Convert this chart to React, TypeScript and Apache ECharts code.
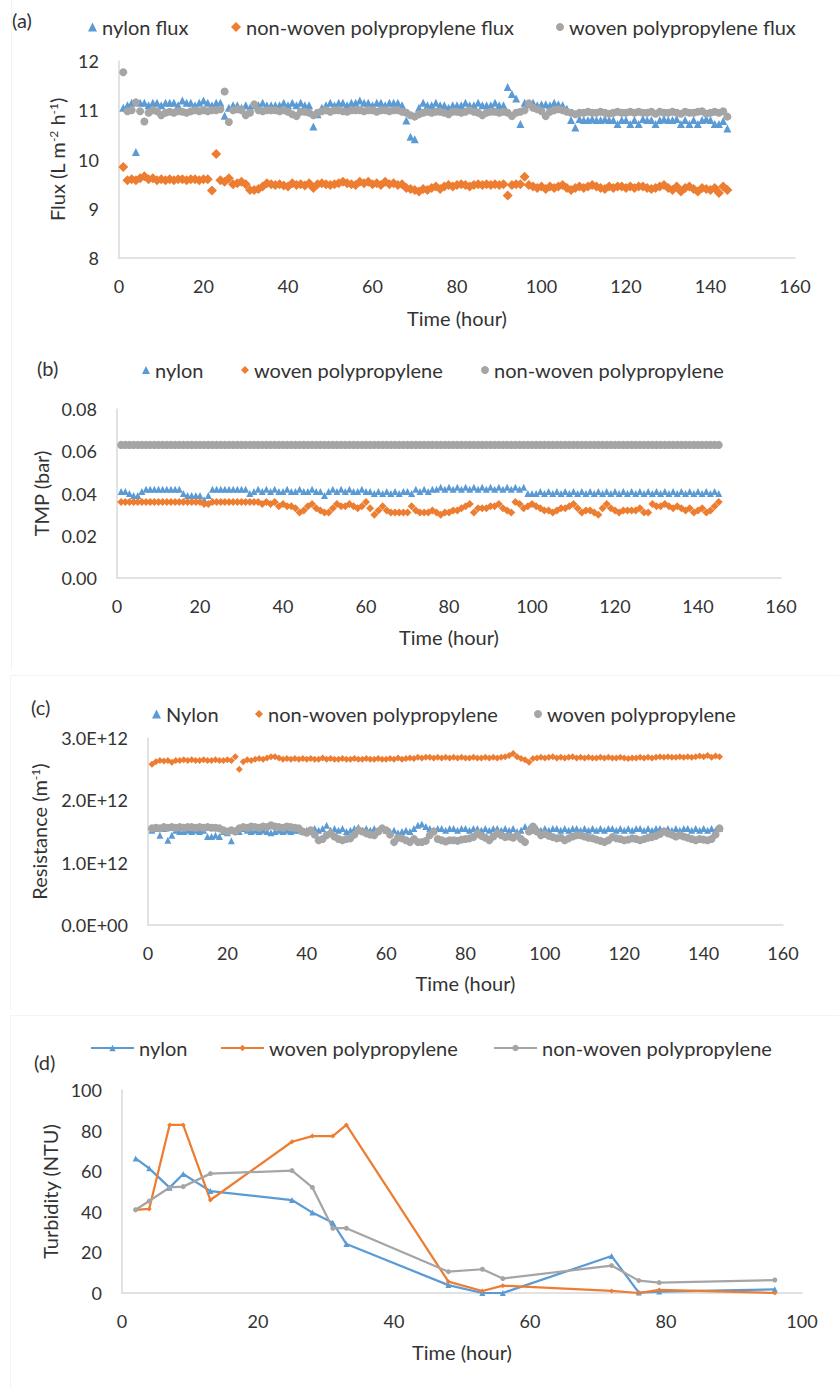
import React, { useEffect, useRef } from "react";
import * as echarts from "echarts";

const FONT = "Lato, 'Open Sans', sans-serif";
const TXT = "#333333";
const AX = "#D9D9D9";
const BLUE = "#5B9BD5";
const ORANGE = "#ED7D31";
const GRAY = "#A5A5A5";

// ---------- (a) Flux, hours 1..144 ----------
const nylonFlux = [
  11.05, 11.1, 11.15, 10.15, 11.15, 11.15, 11.1, 11.15, 11.15, 11.1,
  11.15, 11.15, 11.15, 11.1, 11.2, 11.15, 11.15, 11.1, 11.15, 11.2,
  11.15, 11.1, 11.15, 11.15, 10.89, 11.05, 11.1, 11.1, 11.05, 11.1,
  11.05, 11.1, 11.1, 11.15, 11.1, 11.1, 11.1, 11.1, 11.15, 11.1,
  11.15, 11.1, 11.15, 11.1, 11.1, 10.67, 10.92, 11.05, 11.1, 11.15,
  11.1, 11.15, 11.15, 11.1, 11.15, 11.15, 11.2, 11.15, 11.15, 11.1,
  11.15, 11.15, 11.1, 11.15, 11.15, 11.15, 11.1, 10.79, 10.46, 10.41,
  11.05, 11.15, 11.1, 11.1, 11.15, 11.1, 11.1, 11.05, 11.1, 11.1,
  11.1, 11.15, 11.1, 11.1, 11.15, 11.1, 11.1, 11.1, 11.15, 11.1,
  11.1, 11.47, 11.33, 11.24, 10.72, 11.15, 11.12, 11.15, 11.1, 11.12,
  11.12, 11.1, 11.15, 11.12, 11.1, 11.03, 10.8, 10.65, 10.82, 10.8,
  10.8, 10.82, 10.8, 10.8, 10.82, 10.8, 10.8, 10.72, 10.8, 10.8,
  10.72, 10.8, 10.72, 10.82, 10.8, 10.8, 10.72, 10.8, 10.82, 10.8,
  10.8, 10.82, 10.72, 10.8, 10.72, 10.8, 10.72, 10.8, 10.82, 10.8,
  10.72, 10.72, 10.78, 10.63,
];
const nonWovenFlux = [
  9.85, 9.58, 9.6, 9.58, 9.62, 9.66, 9.6, 9.62, 9.58, 9.6,
  9.58, 9.6, 9.58, 9.6, 9.6, 9.58, 9.6, 9.6, 9.58, 9.6,
  9.6, 9.37, 10.11, 9.58, 9.55, 9.62, 9.5, 9.52, 9.55, 9.5,
  9.38, 9.38, 9.4, 9.45, 9.52, 9.5, 9.48, 9.5, 9.47, 9.45,
  9.52, 9.48, 9.5, 9.47, 9.52, 9.42, 9.5, 9.52, 9.5, 9.48,
  9.5, 9.52, 9.55, 9.52, 9.5, 9.48, 9.55, 9.52, 9.55, 9.5,
  9.52, 9.48, 9.55, 9.5, 9.52, 9.48, 9.5, 9.42, 9.4, 9.38,
  9.35, 9.4, 9.38, 9.42, 9.45, 9.4, 9.45, 9.48, 9.45, 9.48,
  9.5, 9.48, 9.45, 9.48, 9.5, 9.48, 9.5, 9.48, 9.5, 9.48,
  9.5, 9.27, 9.48, 9.5, 9.5, 9.65, 9.48, 9.45, 9.42, 9.45,
  9.4, 9.45, 9.42, 9.45, 9.48, 9.42, 9.38, 9.42, 9.45, 9.42,
  9.45, 9.48, 9.45, 9.42, 9.4, 9.45, 9.42, 9.45, 9.45, 9.42,
  9.45, 9.42, 9.45, 9.45, 9.42, 9.4, 9.42, 9.45, 9.48, 9.42,
  9.38, 9.45, 9.35, 9.42, 9.45, 9.4, 9.35, 9.42, 9.4, 9.38,
  9.42, 9.32, 9.45, 9.38,
];
const wovenFlux = [
  11.77, 10.98, 11.0, 11.16, 10.98, 10.77, 10.95, 11.0, 10.98, 10.9,
  10.95, 10.97, 10.95, 10.98, 10.97, 10.95, 10.98, 11.0, 10.98, 11.0,
  10.98, 11.0, 11.0, 11.02, 11.38, 10.76, 11.0, 11.02, 11.0, 10.9,
  10.95, 11.12, 11.0, 10.98, 11.0, 11.0, 11.0, 10.98, 11.0, 10.97,
  10.92, 10.88, 10.97, 10.97, 10.95, 10.9, 10.95, 10.98, 11.0, 10.97,
  11.0, 11.0, 10.98, 10.97, 11.0, 11.0, 11.0, 10.98, 11.0, 11.0,
  10.97, 11.0, 11.0, 10.98, 11.0, 11.0, 10.97, 10.95, 10.9, 10.87,
  10.92, 10.95, 10.97, 10.95, 10.97, 10.97, 10.95, 10.92, 10.97, 10.97,
  10.95, 10.97, 11.0, 10.97, 10.95, 10.9, 10.95, 10.97, 10.97, 10.95,
  10.97, 10.95, 10.88, 10.95, 10.97, 11.0, 11.14, 11.05, 11.02, 10.98,
  10.88, 10.97, 11.0, 11.02, 11.0, 10.97, 10.95, 10.92, 10.95, 10.95,
  10.97, 10.95, 10.95, 10.97, 10.95, 10.93, 10.95, 10.97, 10.95, 10.95,
  10.97, 10.95, 10.97, 10.95, 10.95, 10.97, 10.93, 10.97, 10.95, 10.95,
  10.97, 10.95, 10.93, 10.97, 10.95, 10.95, 10.97, 10.98, 10.93, 10.95,
  10.97, 10.95, 10.98, 10.87,
];

// ---------- (b) TMP, hours 1..145 ----------
const nylonTmp = [
  0.041, 0.041, 0.04, 0.039, 0.039, 0.041, 0.042, 0.042, 0.042, 0.042,
  0.042, 0.042, 0.042, 0.042, 0.042, 0.04, 0.039, 0.039, 0.039, 0.039,
  0.037, 0.039, 0.042, 0.042, 0.042, 0.042, 0.042, 0.042, 0.042, 0.042,
  0.042, 0.04, 0.041, 0.042, 0.041, 0.042, 0.041, 0.042, 0.041, 0.041,
  0.042, 0.041, 0.041, 0.042, 0.041, 0.041, 0.042, 0.041, 0.041, 0.039,
  0.041, 0.042, 0.041, 0.042, 0.041, 0.042, 0.041, 0.041, 0.042, 0.041,
  0.041, 0.04, 0.041, 0.04, 0.041, 0.04, 0.041, 0.04, 0.041, 0.041,
  0.04, 0.042, 0.041, 0.042, 0.041, 0.042, 0.042, 0.043, 0.042, 0.043,
  0.042, 0.043, 0.042, 0.043, 0.042, 0.043, 0.042, 0.043, 0.042, 0.043,
  0.042, 0.043, 0.042, 0.043, 0.042, 0.043, 0.042, 0.043, 0.04, 0.04,
  0.04, 0.041, 0.04, 0.041, 0.04, 0.041, 0.04, 0.041, 0.04, 0.041,
  0.04, 0.041, 0.04, 0.041, 0.04, 0.041, 0.04, 0.041, 0.04, 0.041,
  0.04, 0.041, 0.04, 0.041, 0.04, 0.041, 0.04, 0.041, 0.04, 0.041,
  0.04, 0.041, 0.04, 0.041, 0.04, 0.041, 0.04, 0.041, 0.04, 0.041,
  0.04, 0.041, 0.04, 0.041, 0.04,
];
const wovenTmp = [
  0.036, 0.036, 0.036, 0.036, 0.036, 0.036, 0.036, 0.036, 0.036, 0.036,
  0.036, 0.036, 0.036, 0.036, 0.036, 0.036, 0.036, 0.036, 0.036, 0.036,
  0.035, 0.035, 0.036, 0.036, 0.036, 0.036, 0.036, 0.036, 0.036, 0.036,
  0.036, 0.036, 0.036, 0.036, 0.035, 0.036, 0.035, 0.036, 0.034, 0.035,
  0.034, 0.034, 0.033, 0.031, 0.032, 0.034, 0.035, 0.033, 0.032, 0.031,
  0.031, 0.033, 0.035, 0.034, 0.034, 0.035, 0.034, 0.033, 0.034, 0.036,
  0.033, 0.03, 0.032, 0.034, 0.032, 0.031, 0.031, 0.031, 0.031, 0.031,
  0.034, 0.032, 0.031, 0.031, 0.031, 0.032, 0.031, 0.03, 0.031, 0.031,
  0.032, 0.032, 0.033, 0.034, 0.035, 0.031, 0.033, 0.033, 0.033, 0.034,
  0.034, 0.035, 0.033, 0.032, 0.031, 0.036, 0.035, 0.033, 0.034, 0.035,
  0.034, 0.033, 0.032, 0.032, 0.031, 0.032, 0.033, 0.033, 0.034, 0.035,
  0.033, 0.031, 0.032, 0.032, 0.031, 0.03, 0.033, 0.035, 0.033, 0.032,
  0.031, 0.032, 0.032, 0.032, 0.032, 0.033, 0.031, 0.031, 0.035, 0.034,
  0.034, 0.035, 0.034, 0.033, 0.034, 0.033, 0.032, 0.033, 0.031, 0.032,
  0.033, 0.031, 0.032, 0.034, 0.036,
];
const nonWovenTmp = [
  0.063, 0.063, 0.063, 0.063, 0.063, 0.063, 0.063, 0.063, 0.063, 0.063,
  0.063, 0.063, 0.063, 0.063, 0.063, 0.063, 0.063, 0.063, 0.063, 0.063,
  0.063, 0.063, 0.063, 0.063, 0.063, 0.063, 0.063, 0.063, 0.063, 0.063,
  0.063, 0.063, 0.063, 0.063, 0.063, 0.063, 0.063, 0.063, 0.063, 0.063,
  0.063, 0.063, 0.063, 0.063, 0.063, 0.063, 0.063, 0.063, 0.063, 0.063,
  0.063, 0.063, 0.063, 0.063, 0.063, 0.063, 0.063, 0.063, 0.063, 0.063,
  0.063, 0.063, 0.063, 0.063, 0.063, 0.063, 0.063, 0.063, 0.063, 0.063,
  0.063, 0.063, 0.063, 0.063, 0.063, 0.063, 0.063, 0.063, 0.063, 0.063,
  0.063, 0.063, 0.063, 0.063, 0.063, 0.063, 0.063, 0.063, 0.063, 0.063,
  0.063, 0.063, 0.063, 0.063, 0.063, 0.063, 0.063, 0.063, 0.063, 0.063,
  0.063, 0.063, 0.063, 0.063, 0.063, 0.063, 0.063, 0.063, 0.063, 0.063,
  0.063, 0.063, 0.063, 0.063, 0.063, 0.063, 0.063, 0.063, 0.063, 0.063,
  0.063, 0.063, 0.063, 0.063, 0.063, 0.063, 0.063, 0.063, 0.063, 0.063,
  0.063, 0.063, 0.063, 0.063, 0.063, 0.063, 0.063, 0.063, 0.063, 0.063,
  0.063, 0.063, 0.063, 0.063, 0.063,
];

// ---------- (c) Resistance (x 1E+12 m^-1), hours 1..144 ----------
const nylonRes = [
  1.52, 1.55, 1.44, 1.55, 1.36, 1.44, 1.52, 1.5, 1.5, 1.52,
  1.5, 1.52, 1.5, 1.52, 1.42, 1.42, 1.44, 1.42, 1.5, 1.48,
  1.35, 1.52, 1.5, 1.55, 1.52, 1.5, 1.52, 1.5, 1.52, 1.5,
  1.48, 1.5, 1.52, 1.5, 1.52, 1.5, 1.52, 1.52, 1.5, 1.52,
  1.5, 1.55, 1.52, 1.55, 1.6, 1.52, 1.55, 1.52, 1.55, 1.5,
  1.52, 1.55, 1.57, 1.52, 1.55, 1.52, 1.55, 1.52, 1.55, 1.52,
  1.5, 1.52, 1.48, 1.5, 1.52, 1.5, 1.55, 1.6, 1.62, 1.58,
  1.55, 1.52, 1.55, 1.55, 1.52, 1.55, 1.55, 1.52, 1.55, 1.55,
  1.52, 1.55, 1.55, 1.52, 1.55, 1.52, 1.55, 1.55, 1.52, 1.55,
  1.52, 1.55, 1.5, 1.52, 1.58, 1.55, 1.52, 1.55, 1.52, 1.55,
  1.52, 1.55, 1.55, 1.52, 1.55, 1.52, 1.55, 1.55, 1.52, 1.55,
  1.52, 1.55, 1.52, 1.55, 1.52, 1.55, 1.55, 1.52, 1.55, 1.52,
  1.55, 1.52, 1.55, 1.55, 1.52, 1.55, 1.52, 1.55, 1.55, 1.52,
  1.55, 1.52, 1.55, 1.52, 1.55, 1.55, 1.52, 1.55, 1.52, 1.55,
  1.52, 1.55, 1.52, 1.55,
];
const nonWovenRes = [
  2.58, 2.62, 2.64, 2.63, 2.64, 2.61, 2.64, 2.64, 2.65, 2.64,
  2.65, 2.64, 2.64, 2.65, 2.64, 2.64, 2.65, 2.64, 2.64, 2.65,
  2.64, 2.7, 2.5, 2.62, 2.65, 2.64, 2.66, 2.67, 2.66, 2.68,
  2.7, 2.7, 2.68, 2.66, 2.67, 2.66, 2.67, 2.66, 2.67, 2.66,
  2.67, 2.66, 2.66, 2.68, 2.66, 2.67, 2.66, 2.66, 2.67, 2.66,
  2.66, 2.67, 2.66, 2.66, 2.67, 2.66, 2.66, 2.67, 2.66, 2.66,
  2.67, 2.66, 2.68, 2.66, 2.67, 2.68, 2.67, 2.69, 2.68, 2.69,
  2.69, 2.68, 2.69, 2.68, 2.69, 2.68, 2.69, 2.68, 2.69, 2.68,
  2.68, 2.69, 2.68, 2.68, 2.69, 2.68, 2.69, 2.68, 2.69, 2.7,
  2.72, 2.75, 2.7, 2.67, 2.65, 2.61, 2.67, 2.68, 2.69, 2.68,
  2.69, 2.7, 2.68, 2.69, 2.68, 2.69, 2.7, 2.68, 2.69, 2.68,
  2.69, 2.68, 2.68, 2.69, 2.68, 2.69, 2.68, 2.68, 2.69, 2.68,
  2.67, 2.68, 2.68, 2.69, 2.68, 2.69, 2.68, 2.69, 2.7, 2.69,
  2.7, 2.69, 2.69, 2.7, 2.69, 2.7, 2.69, 2.7, 2.71, 2.7,
  2.72, 2.69, 2.71, 2.7,
];
const wovenRes = [
  1.55, 1.56, 1.55, 1.57, 1.56, 1.57, 1.56, 1.57, 1.56, 1.57,
  1.57, 1.56, 1.57, 1.56, 1.57, 1.56, 1.56, 1.55, 1.52, 1.5,
  1.52, 1.5, 1.55, 1.57, 1.56, 1.58, 1.57, 1.56, 1.58, 1.57,
  1.6, 1.58, 1.57, 1.56, 1.58, 1.57, 1.56, 1.55, 1.5, 1.48,
  1.52, 1.45, 1.36, 1.38, 1.44, 1.47, 1.42, 1.38, 1.36, 1.38,
  1.39, 1.45, 1.52, 1.5, 1.47, 1.45, 1.44, 1.5, 1.55, 1.52,
  1.45, 1.33, 1.4, 1.39, 1.36, 1.33, 1.38, 1.33, 1.33, 1.35,
  1.44, 1.5, 1.38, 1.36, 1.34, 1.36, 1.36, 1.35, 1.37, 1.38,
  1.39, 1.41, 1.47, 1.43, 1.4, 1.36, 1.42, 1.47, 1.44, 1.41,
  1.42, 1.4, 1.44, 1.38, 1.33, 1.5, 1.58, 1.5, 1.44, 1.46,
  1.43, 1.41, 1.39, 1.4, 1.36, 1.39, 1.42, 1.44, 1.44, 1.42,
  1.4, 1.39, 1.37, 1.35, 1.33, 1.36, 1.41, 1.39, 1.38, 1.36,
  1.37, 1.39, 1.38, 1.36, 1.38, 1.4, 1.41, 1.43, 1.46, 1.5,
  1.47, 1.45, 1.42, 1.44, 1.42, 1.4, 1.38, 1.36, 1.38, 1.37,
  1.36, 1.38, 1.45, 1.55,
];

// ---------- (d) Turbidity ----------
const turbTime = [2, 4, 7, 9, 13, 25, 28, 31, 33, 48, 53, 56, 72, 76, 79, 96];
const nylonTurb = [66.3, 61.4, 51.9, 58.6, 50.2, 45.8, 39.6, 34.6, 24.1, 3.9, 0, 0, 18.2, 0.2, 0.7, 1.8];
const wovenTurb = [40.9, 41.4, 82.8, 82.8, 45.8, 74.5, 77.3, 77.3, 82.8, 5.6, 1.0, 3.6, 1.0, 0, 1.5, 0];
const nonWovenTurb = [41, 45.3, 52, 52.4, 58.8, 60.3, 52, 31.9, 31.9, 10.5, 11.7, 7.1, 13.5, 6.1, 5.1, 6.4];

// ---------- helpers ----------
const hourly = (arr: number[], scale = 1) => arr.map((v, i) => [i + 1, v * scale]);

const txt = (size: number) => ({ color: TXT, fontSize: size, fontFamily: FONT });

function leg(name: string, left: number, top: number, icon: string | undefined, w: number, h: number) {
  const l: any = {
    data: [icon ? { name, icon } : { name }],
    left,
    top,
    padding: 0,
    itemWidth: w,
    itemHeight: h,
    selectedMode: false,
    textStyle: txt(20),
  };
  return l;
}

function xAxisCfg(max: number, interval: number, nameGap: number) {
  return {
    type: "value",
    min: 0,
    max,
    interval,
    axisLine: { show: true, onZero: false, lineStyle: { color: AX, width: 1.5 } },
    axisTick: { show: false },
    splitLine: { show: false },
    axisLabel: { ...txt(18), margin: 19 },
    name: "Time (hour)",
    nameLocation: "middle",
    nameGap,
    nameTextStyle: txt(20),
  };
}

function yAxisCfg(min: number, max: number, interval: number, name: string, nameGap: number, formatter: any) {
  return {
    type: "value",
    min,
    max,
    interval,
    axisLine: { show: true, lineStyle: { color: AX, width: 1.5 } },
    axisTick: { show: false },
    splitLine: { show: false },
    axisLabel: { ...txt(18), margin: 20, formatter },
    name,
    nameLocation: "middle",
    nameGap,
    nameTextStyle: {
      ...txt(20),
      rich: { sup: { fontSize: 12, fontFamily: FONT, color: TXT, verticalAlign: "top", lineHeight: 20 } },
    },
  };
}

function panelLabel(label: string, left: number, top: number, h: number, frameTop: number | null) {
  const els: any[] = [];
  if (frameTop !== null) {
    els.push({
      type: "rect",
      shape: { x: 10.5, y: frameTop + 0.5, width: 840, height: h - frameTop + 20 },
      style: { fill: "none", stroke: "#F3F3F3", lineWidth: 1 },
      silent: true,
    });
  } else {
    els.push({
      type: "line",
      shape: { x1: 11.5, y1: 0, x2: 11.5, y2: h },
      style: { stroke: "#F3F3F3", lineWidth: 1 },
      silent: true,
    });
  }
  els.push({ type: "text", left, top, style: { text: label, fill: TXT, fontSize: 20, fontFamily: FONT } });
  return els;
}

const scatter = (name: string, data: any[], symbol: string, size: number, color: string) => ({
  type: "scatter",
  name,
  data,
  symbol,
  symbolSize: size,
  itemStyle: { color, opacity: 1 },
});

const line = (name: string, data: any[], symbol: string, size: number, color: string) => ({
  type: "line",
  name,
  data,
  symbol,
  symbolSize: size,
  showSymbol: true,
  lineStyle: { color, width: 2.25 },
  itemStyle: { color },
});

const optA: any = {
  animation: false,
  backgroundColor: "#fff",
  grid: { left: 119, top: 61, width: 676, height: 197 },
  xAxis: xAxisCfg(160, 20, 50),
  yAxis: yAxisCfg(8, 12, 1, "Flux (L m{sup|-2} h{sup|-1})", 48, (v: number) => String(v)),
  legend: [
    leg("nylon flux", 88, 17, "triangle", 9, 9),
    leg("non-woven polypropylene flux", 231, 17, "diamond", 10, 10),
    leg("woven polypropylene flux", 556, 17, "circle", 8, 8),
  ],
  graphic: panelLabel("(a)", 12, 10, 335, null),
  series: [
    scatter("nylon flux", hourly(nylonFlux), "triangle", 8, BLUE),
    scatter("non-woven polypropylene flux", hourly(nonWovenFlux), "diamond", 10, ORANGE),
    scatter("woven polypropylene flux", hourly(wovenFlux), "circle", 8, GRAY),
  ],
};

const optB: any = {
  animation: false,
  backgroundColor: "#fff",
  grid: { left: 117, top: 74, width: 664, height: 169 },
  xAxis: xAxisCfg(160, 20, 49),
  yAxis: yAxisCfg(0, 0.08, 0.02, "TMP (bar)", 65, (v: number) => v.toFixed(2)),
  legend: [
    leg("nylon", 142, 25, "triangle", 8, 8),
    leg("woven polypropylene", 241, 25, "diamond", 8, 8),
    leg("non-woven polypropylene", 481, 25, "circle", 8, 8),
  ],
  graphic: panelLabel("(b)", 37, 23, 335, null),
  series: [
    scatter("nylon", hourly(nylonTmp), "triangle", 7, BLUE),
    scatter("woven polypropylene", hourly(wovenTmp), "diamond", 8, ORANGE),
    scatter("non-woven polypropylene", hourly(nonWovenTmp), "circle", 8, GRAY),
  ],
};

const optC: any = {
  animation: false,
  backgroundColor: "#fff",
  grid: { left: 148, top: 68, width: 635, height: 187 },
  xAxis: xAxisCfg(160, 20, 48),
  yAxis: yAxisCfg(0, 3e12, 1e12, "Resistance (m{sup|-1})", 99, (v: number) =>
    v === 0 ? "0.0E+00" : (v / 1e12).toFixed(1) + "E+12"
  ),
  legend: [
    leg("Nylon", 152, 34, "triangle", 9, 9),
    leg("non-woven polypropylene", 255, 34, "diamond", 8, 8),
    leg("woven polypropylene", 534, 34, "circle", 8, 8),
  ],
  graphic: panelLabel("(c)", 31, 27, 340, 5),
  series: [
    scatter("Nylon", hourly(nylonRes, 1e12), "triangle", 7, BLUE),
    scatter("non-woven polypropylene", hourly(nonWovenRes, 1e12), "diamond", 7, ORANGE),
    scatter("woven polypropylene", hourly(wovenRes, 1e12), "circle", 8, GRAY),
  ],
};

const optD: any = {
  animation: false,
  backgroundColor: "#fff",
  grid: { left: 122, top: 80, width: 680, height: 203 },
  xAxis: xAxisCfg(100, 20, 49),
  yAxis: yAxisCfg(0, 100, 20, "Turbidity (NTU)", 60, (v: number) => String(v)),
  legend: [
    leg("nylon", 90, 28, undefined, 43, 8),
    leg("woven polypropylene", 220, 28, undefined, 43, 8),
    leg("non-woven polypropylene", 493, 28, undefined, 43, 8),
  ],
  graphic: panelLabel("(d)", 34, 42, 377, 5),
  series: [
    line("nylon", turbTime.map((t, i) => [t, nylonTurb[i]]), "triangle", 6, BLUE),
    line("woven polypropylene", turbTime.map((t, i) => [t, wovenTurb[i]]), "diamond", 5, ORANGE),
    line("non-woven polypropylene", turbTime.map((t, i) => [t, nonWovenTurb[i]]), "circle", 5, GRAY),
  ],
};

function Chart({ top, height, option }: { top: number; height: number; option: any }) {
  const ref = useRef<HTMLDivElement>(null);
  useEffect(() => {
    const chart = echarts.init(ref.current as HTMLDivElement, null, { renderer: "svg" });
    chart.setOption(option);
    return () => chart.dispose();
  }, [option]);
  return <div ref={ref} style={{ position: "absolute", left: 0, top, width: 839, height }} />;
}

export default function App() {
  return (
    <div style={{ position: "absolute", left: 0, top: 0, width: 839, height: 1387, background: "#fff" }}>
      <Chart top={0} height={335} option={optA} />
      <Chart top={335} height={335} option={optB} />
      <Chart top={670} height={340} option={optC} />
      <Chart top={1010} height={377} option={optD} />
    </div>
  );
}
